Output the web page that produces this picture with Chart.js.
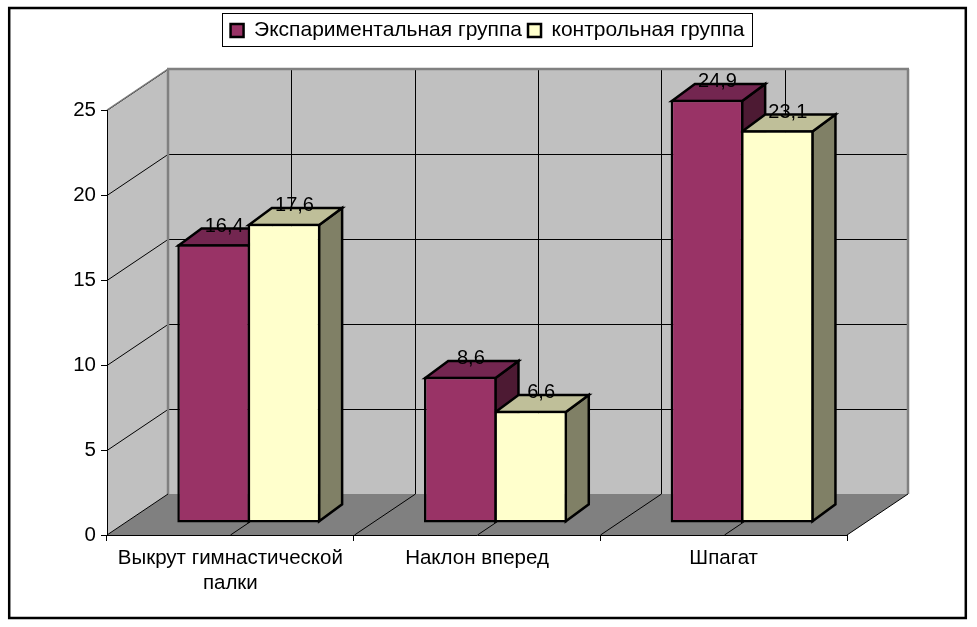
<!DOCTYPE html>
<html>
<head>
<meta charset="utf-8">
<title>Chart</title>
<script src="https://cdn.jsdelivr.net/npm/chart.js@4/dist/chart.umd.min.js"></script>
<style>
    html, body { margin: 0; padding: 0; background: #fff; }
    canvas { display: block; }
</style>
</head>
<body>
<canvas id="chart" width="977" height="627"></canvas>
<script>
const categories = [['Выкрут гимнастической', 'палки'], 'Наклон вперед', 'Шпагат'];
const seriesNames = ['Экспариментальная группа', 'контрольная группа'];
const experimental = [16.4, 8.6, 24.9];
const control = [17.6, 6.6, 23.1];
const yTicks = [0, 5, 10, 15, 20, 25];

const fontName = '"Liberation Sans", Arial, sans-serif';
const faces = [
    { front: '#993366', top: '#732650', side: '#4d1a33' },
    { front: '#ffffcc', top: '#bfbf99', side: '#808066' }
];

// depth of the box, and how far the bars stand from the front plane
const wallX = 61, wallY = -41;
const barShiftX = 18.5, barShiftY = -12;
const barDepthX = 23, barDepthY = -17;
const edge = 2.5;

function poly(ctx, points, fill, stroke, width) {
    ctx.beginPath();
    points.forEach((p, i) => i ? ctx.lineTo(p[0], p[1]) : ctx.moveTo(p[0], p[1]));
    ctx.closePath();
    if (fill) { ctx.fillStyle = fill; ctx.fill(); }
    if (stroke) { ctx.strokeStyle = stroke; ctx.lineWidth = width; ctx.stroke(); }
}

function line(ctx, x1, y1, x2, y2, color, width) {
    ctx.beginPath();
    ctx.moveTo(x1, y1);
    ctx.lineTo(x2, y2);
    ctx.strokeStyle = color;
    ctx.lineWidth = width;
    ctx.stroke();
}

const box3d = {
    id: 'box3d',
    afterLayout(chart) {
        // legend is centred on the whole page, not on the plot
        chart.legend.left = -1;
        chart.legend.right = 976;
        chart.legend.top = 14;
        chart.legend.bottom = 44;
    },
    beforeDraw(chart) {
        const ctx = chart.ctx;
        const { left, right, top, bottom } = chart.chartArea;
        const yScale = chart.scales.y;
        const xScale = chart.scales.x;
        ctx.save();

        // outer frame and legend box
        ctx.strokeStyle = '#000';
        ctx.lineWidth = 2.5;
        ctx.strokeRect(9.2, 8, 956.6, 610);
        ctx.lineWidth = 1;
        ctx.strokeRect(222.5, 13.5, 530, 33);

        const backL = left + wallX, backR = right + wallX;
        const backT = top + wallY, backB = bottom + wallY;

        poly(ctx, [[backL, backT], [backR, backT], [backR, backB], [backL, backB]], '#c0c0c0');
        poly(ctx, [[left, top], [backL, backT], [backL, backB], [left, bottom]], '#c0c0c0');
        poly(ctx, [[left, bottom], [backL, backB], [backR, backB], [right, bottom]], '#808080');

        // horizontal grid over side wall and back wall
        yTicks.slice(1).forEach(v => {
            const py = Math.round(yScale.getPixelForValue(v)) + 0.5;
            line(ctx, left, py, backL, py + wallY, '#000', 1);
            line(ctx, backL, py + wallY, backR, py + wallY, '#000', 1);
        });

        // vertical grid at category centres and boundaries
        const step = xScale.getPixelForValue(1) - xScale.getPixelForValue(0);
        categories.forEach((c, i) => {
            const cx = xScale.getPixelForValue(i);
            [cx, cx + step / 2].forEach((px, k) => {
                if (i === categories.length - 1 && k === 1) return;
                const gx = Math.round(px) + 0.5;
                line(ctx, gx + wallX, backT, gx + wallX, backB, '#000', 1);
                line(ctx, gx, bottom, gx + wallX, backB, '#000', 1);
            });
        });

        // grey edges of the box
        line(ctx, left, top, backL, backT, '#808080', 1.5);
        line(ctx, backL - 1, backT, backR + 1, backT, '#808080', 2.5);
        line(ctx, backL, backT, backL, backB, '#808080', 2.5);
        line(ctx, backR, backT, backR, backB, '#808080', 2.5);
        line(ctx, left, bottom, backL, backB, '#000', 1);
        line(ctx, right, bottom, backR, backB, '#000', 1);
        ctx.restore();
    },
    beforeDatasetsDraw(chart) {
        const ctx = chart.ctx;
        ctx.save();
        ctx.translate(barShiftX, barShiftY);
        ctx.lineJoin = 'miter';
        // top and side faces go under the fronts, which the library draws next
        [0, 1].forEach(d => {
            chart.getDatasetMeta(d).data.forEach(bar => {
                const r = bar.x + bar.width / 2 - edge / 2;
                const l = bar.x - bar.width / 2 + edge / 2;
                const t = bar.y + edge / 2;
                const b = bar.base - edge / 2;
                poly(ctx, [[r, t], [r + barDepthX, t + barDepthY], [r + barDepthX, b + barDepthY], [r, b]],
                    faces[d].side, '#000', edge);
                poly(ctx, [[l, t], [l + barDepthX, t + barDepthY], [r + barDepthX, t + barDepthY], [r, t]],
                    faces[d].top, '#000', edge);
            });
        });
    },
    afterDatasetsDraw(chart) {
        const ctx = chart.ctx;
        ctx.restore();
        ctx.save();
        ctx.fillStyle = '#000';
        ctx.font = '20px ' + fontName;
        ctx.textAlign = 'center';
        ctx.textBaseline = 'middle';
        [experimental, control].forEach((values, d) => {
            chart.getDatasetMeta(d).data.forEach((bar, i) => {
                const label = String(values[i]).replace('.', ',');
                ctx.fillText(label, bar.x + barShiftX + 10.5, bar.y + barShiftY - 18);
            });
        });
        ctx.restore();
    }
};

new Chart(document.getElementById('chart').getContext('2d'), {
    type: 'bar',
    data: {
        labels: categories,
        datasets: [
            { label: seriesNames[0], data: experimental, backgroundColor: faces[0].front },
            { label: seriesNames[1], data: control, backgroundColor: faces[1].front }
        ]
    },
    plugins: [box3d],
    options: {
        responsive: false,
        animation: false,
        datasets: {
            bar: {
                borderColor: '#000',
                borderWidth: edge,
                borderSkipped: false,
                categoryPercentage: 0.57,
                barPercentage: 1.035,
                clip: false
            }
        },
        layout: { padding: { top: 73, right: 130, left: 0, bottom: 0 } },
        plugins: {
            legend: {
                position: 'top',
                labels: {
                    color: '#000',
                    font: { family: fontName, size: 21 },
                    boxWidth: 13,
                    boxHeight: 13,
                    padding: 6
                }
            },
            tooltip: { enabled: false }
        },
        scales: {
            x: {
                offset: true,
                afterFit(s) { s.height = 92; },
                grid: { offset: true, drawOnChartArea: false, color: '#000', tickLength: 6 },
                border: { color: '#000' },
                ticks: {
                    color: '#000',
                    padding: 4.5,
                    maxRotation: 0,
                    font: { family: fontName, size: 20.5, lineHeight: 1.22 }
                }
            },
            y: {
                min: 0,
                max: 25,
                afterFit(s) { s.width = 107; },
                afterBuildTicks(s) { s.ticks = yTicks.map(v => ({ value: v })); },
                grid: { drawOnChartArea: false, color: '#000', tickLength: 6 },
                border: { color: '#000' },
                ticks: {
                    color: '#000',
                    padding: 5,
                    font: { family: fontName, size: 20.5 }
                }
            }
        }
    }
});
</script>
</body>
</html>
